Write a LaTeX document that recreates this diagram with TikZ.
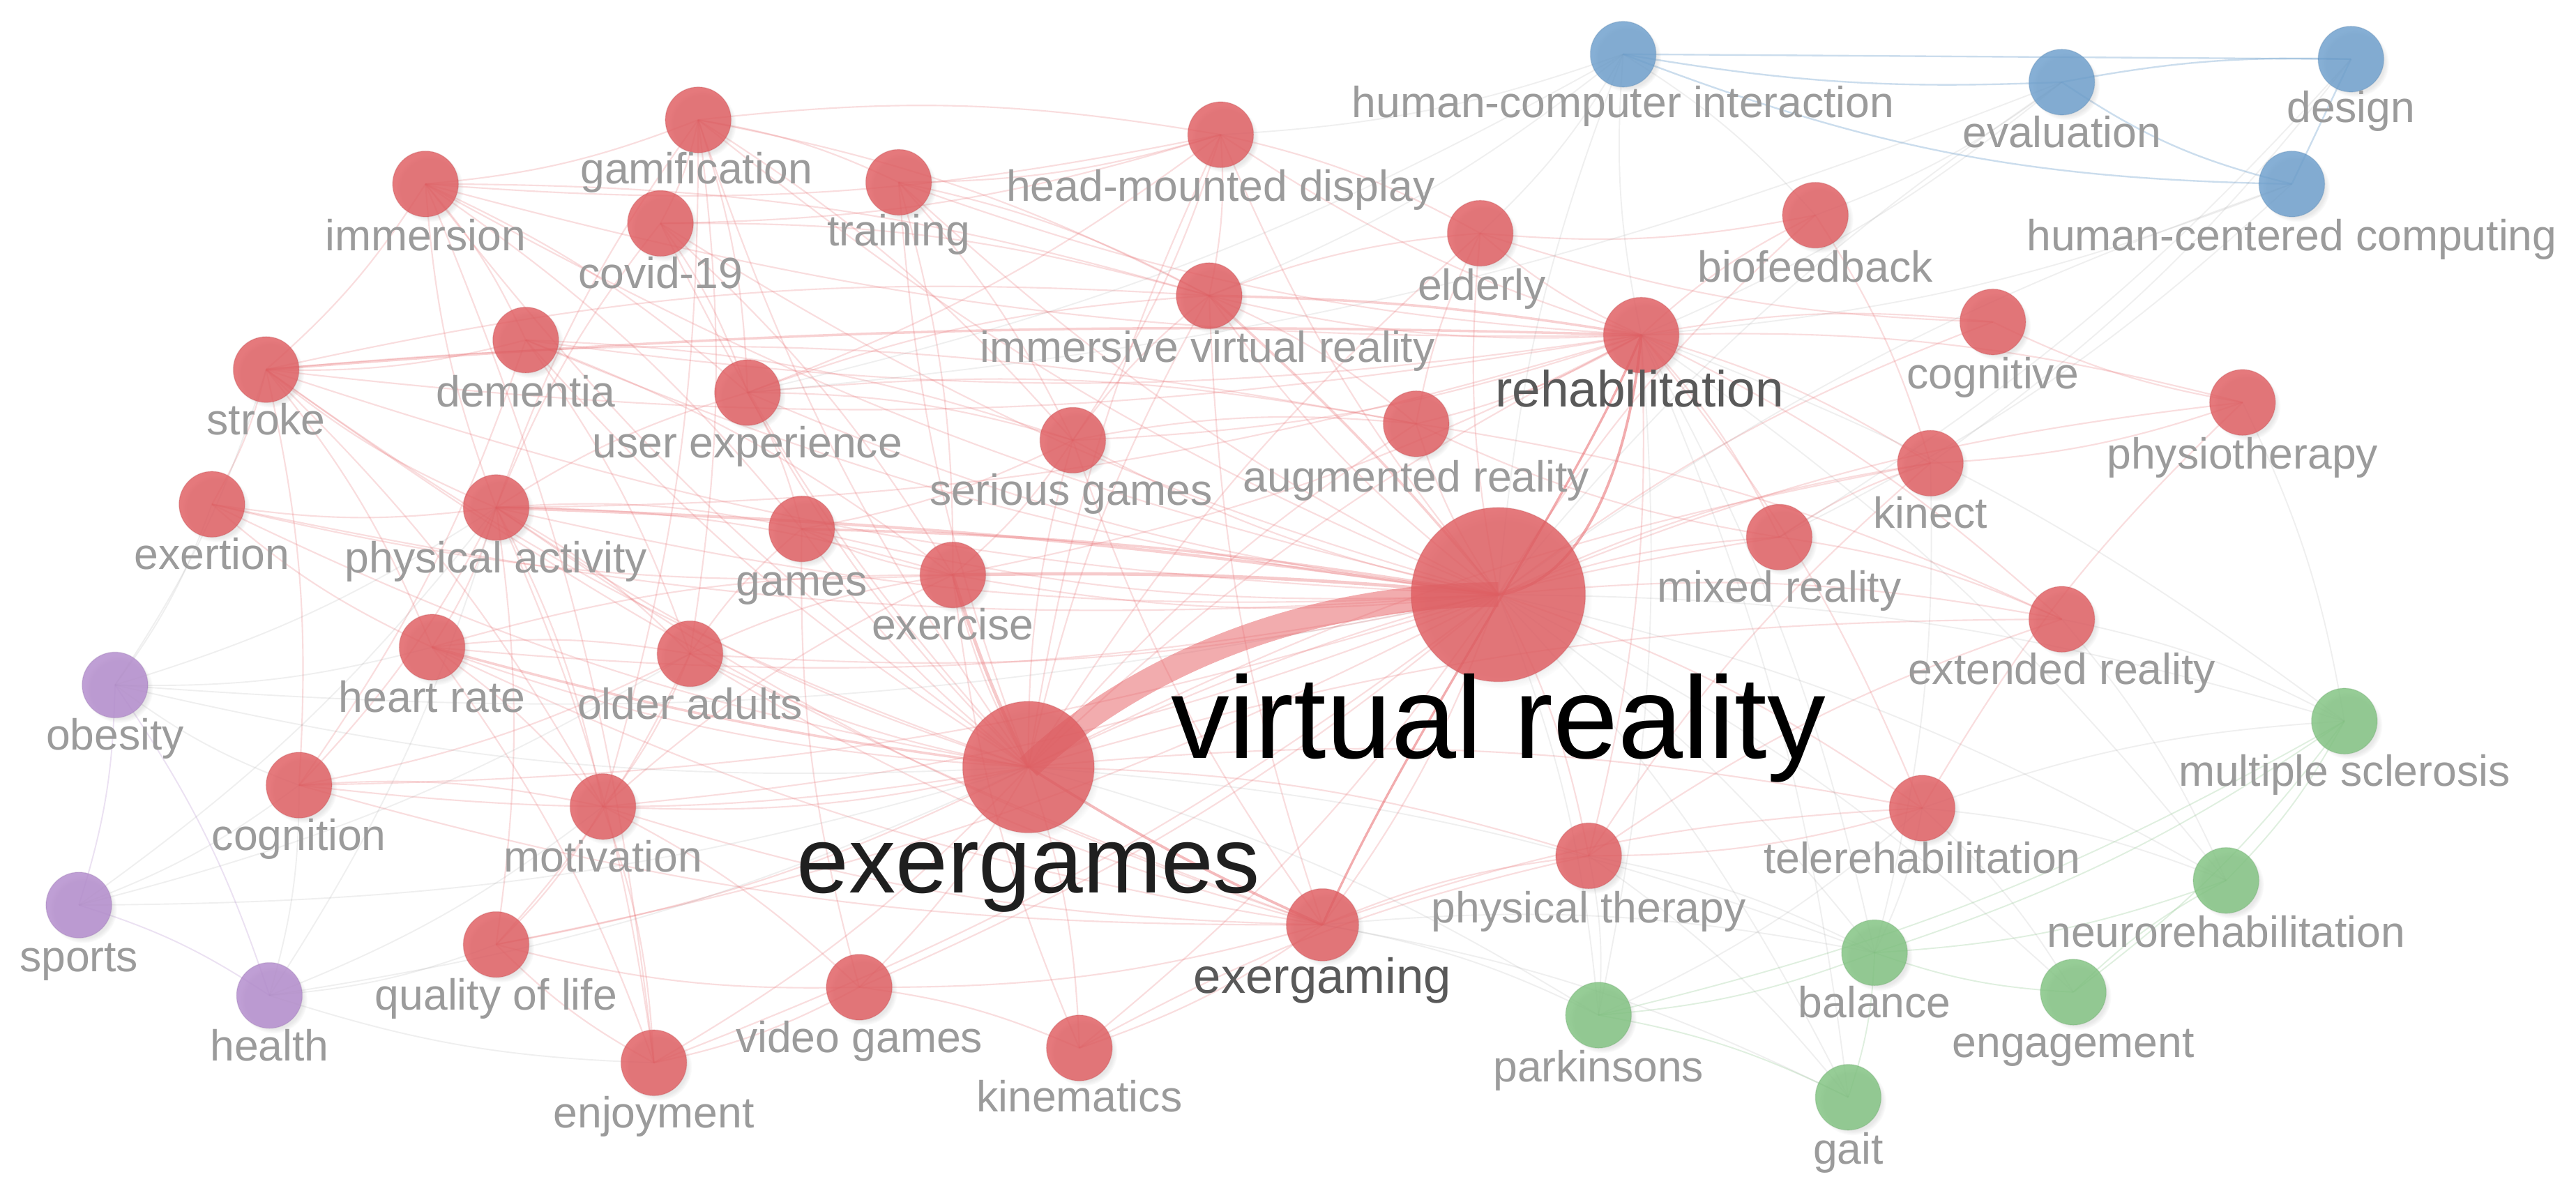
\documentclass[tikz,border=0pt]{standalone}
\usepackage{fontspec}
\setmainfont{Liberation Sans}
\usetikzlibrary{backgrounds,shadows}
\definecolor{nred}{RGB}{224,92,96}
\definecolor{nblue}{RGB}{108,158,204}
\definecolor{ngreen}{RGB}{128,194,128}
\definecolor{npurple}{RGB}{178,138,204}
\definecolor{ered}{RGB}{232,104,108}
\definecolor{lgray}{RGB}{155,155,155}
\begin{document}
\begin{tikzpicture}[x=1pt,y=1pt,
  kw/.style={circle,minimum size=40pt,inner sep=0pt,fill=nred,fill opacity=0.82,
    draw=nred!85!black,draw opacity=0.25,line width=0.6pt,
    circular drop shadow={shadow xshift=2.5pt,shadow yshift=-2.5pt,opacity=0.18,shadow scale=1.03}},
  kwb/.style={kw,fill=nblue,draw=nblue!85!black},
  kwg/.style={kw,fill=ngreen,draw=ngreen!85!black},
  kwp/.style={kw,fill=npurple,draw=npurple!85!black},
  lbl/.style={font=\fontsize{26.5}{28}\selectfont,text=lgray,inner sep=0pt,anchor=mid,yshift=-7pt},
  re/.style={draw=ered,draw opacity=0.22,line width=0.9pt},
  ge/.style={draw=gray,draw opacity=0.12,line width=0.8pt},
  gre/.style={draw=ngreen,draw opacity=0.25,line width=0.8pt},
  ble/.style={draw=nblue,draw opacity=0.35,line width=1pt},
  bendy/.style={bend left=8}]
\useasboundingbox (0,0) rectangle (1568,-722);
% ---------- nodes ----------
\node[kw] (gam) at (425,-73) {};
\node[kw] (hmd) at (743,-82) {};
\node[kw] (imm) at (259,-112) {};
\node[kw] (cov) at (402,-136) {};
\node[kw] (tra) at (547,-111) {};
\node[kw] (eld) at (901,-142) {};
\node[kw] (bio) at (1105,-131) {};
\node[kw] (ivr) at (736,-180) {};
\node[kw,minimum size=46pt] (reh) at (999,-204) {};
\node[kw] (cgt) at (1213,-196) {};
\node[kw] (str) at (162,-225) {};
\node[kw] (dem) at (320,-207) {};
\node[kw] (ux) at (455,-239) {};
\node[kw] (sg) at (653,-268) {};
\node[kw] (ar) at (862,-258) {};
\node[kw] (phy) at (1365,-245) {};
\node[kw] (knt) at (1175,-282) {};
\node[kw] (exn) at (129,-307) {};
\node[kw] (pa) at (302,-309) {};
\node[kw] (gms) at (488,-322) {};
\node[kw] (exc) at (580,-350) {};
\node[kw] (mr) at (1083,-327) {};
\node[kw,minimum size=106pt] (vr) at (912,-362) {};
\node[kw] (xr) at (1255,-377) {};
\node[kw] (hr) at (263,-394) {};
\node[kw] (oa) at (420,-398) {};
\node[kw,minimum size=80pt] (exg) at (626,-467) {};
\node[kw] (cgn) at (182,-478) {};
\node[kw] (mot) at (367,-491) {};
\node[kw] (tel) at (1170,-492) {};
\node[kw] (pt) at (967,-521) {};
\node[kw,minimum size=44pt] (exgm) at (805,-563) {};
\node[kw] (qol) at (302,-575) {};
\node[kw] (vg) at (523,-601) {};
\node[kw] (kin) at (657,-638) {};
\node[kw] (enj) at (398,-647) {};
\node[kwp] (obe) at (70,-417) {};
\node[kwp] (spo) at (48,-551) {};
\node[kwp] (hea) at (164,-606) {};
\node[kwg] (ms) at (1427,-439) {};
\node[kwg] (neu) at (1355,-536) {};
\node[kwg] (bal) at (1141,-580) {};
\node[kwg] (eng) at (1262,-604) {};
\node[kwg] (par) at (973,-618) {};
\node[kwg] (gait) at (1125,-668) {};
\node[kwb] (hci) at (988,-33) {};
\node[kwb] (eva) at (1255,-50) {};
\node[kwb] (des) at (1431,-36) {};
\node[kwb] (hcc) at (1395,-112) {};
% ---------- edges ----------
\begin{pgfonlayer}{background}
\fill[white] (0,0) rectangle (1568,-722);
\foreach \a/\b in {vr/gam,vr/hmd,vr/imm,vr/cov,vr/tra,vr/eld,vr/bio,vr/ivr,vr/cgt,vr/str,vr/dem,vr/ux,vr/sg,vr/ar,vr/phy,vr/knt,vr/exn,vr/pa,vr/gms,vr/exc,vr/mr,vr/xr,vr/hr,vr/oa,vr/cgn,vr/mot,vr/tel,vr/pt,vr/exgm,vr/qol,vr/vg,vr/kin,vr/enj,
 exg/gam,exg/imm,exg/cov,exg/tra,exg/hmd,exg/eld,exg/ivr,exg/reh,exg/str,exg/dem,exg/ux,exg/sg,exg/ar,exg/exn,exg/pa,exg/gms,exg/exc,exg/hr,exg/oa,exg/cgn,exg/mot,exg/qol,exg/vg,exg/kin,exg/enj,exg/pt,exg/tel,exg/mr,exg/knt,exg/xr,
 reh/eld,reh/bio,reh/cgt,reh/phy,reh/knt,reh/str,reh/ivr,reh/ar,reh/sg,reh/exc,reh/tel,reh/pt,reh/mr,reh/xr,reh/imm,reh/pa,reh/dem,reh/tra,reh/hmd,
 exgm/pt,exgm/oa,exgm/mot,exgm/vg,exgm/kin,exgm/tel,exgm/pa,exgm/str,exgm/hr,exgm/cgn,
 pa/exn,pa/hr,pa/oa,pa/gms,pa/mot,pa/imm,pa/ux,pa/str,pa/cgn,pa/qol,pa/enj,pa/exc,pa/gam,pa/cov,
 gam/ux,gam/tra,gam/ivr,gam/sg,gam/mot,gam/imm,gam/hmd,gam/cov,gam/oa,
 hmd/ivr,hmd/imm,hmd/ux,hmd/tra,hmd/sg,hmd/eld,hmd/cov,
 imm/ivr,imm/ux,imm/str,imm/enj,imm/dem,imm/gms,
 dem/oa,dem/cgn,dem/str,dem/sg,dem/exc,cov/ivr,cov/ux,cov/exc,tra/ivr,tra/sg,tra/exc,
 str/exn,str/hr,str/cgn,str/mot,str/ar,str/ivr,
 ux/ivr,ux/sg,ux/gms,ux/ar,sg/exc,sg/gms,sg/ar,sg/ivr,ivr/ar,ivr/eld,
 hr/exn,hr/enj,hr/oa,hr/mot,hr/exc,oa/cgn,oa/mot,oa/qol,oa/exc,oa/gms,
 cgn/mot,mot/enj,mot/qol,mot/vg,mot/exc,vg/enj,vg/kin,vg/qol,vg/gms,enj/qol,
 tel/pt,tel/phy,mr/ar,mr/knt,mr/xr,ar/xr,ar/eld,phy/knt,phy/cgt,cgt/eld,bio/knt,bio/eld,
 exc/exn,exc/gms,exgm/ivr,exgm/sg,pt/knt,pt/xr,kin/exc,kin/pt}
  \draw[re] (\a.center) to[bendy] (\b.center);
\foreach \a/\b in {vr/ms,vr/neu,vr/bal,vr/eng,vr/par,vr/gait,vr/hci,vr/hcc,vr/eva,vr/obe,
 exg/obe,exg/spo,exg/hea,exg/bal,exg/par,reh/ms,reh/neu,reh/bal,reh/par,reh/gait,reh/hci,
 exgm/bal,exgm/par,exgm/gait,pa/obe,pa/hea,pa/spo,cgn/obe,cgn/spo,cgn/hea,exn/obe,hr/obe,
 tel/bal,tel/ms,tel/neu,tel/eng,tel/par,pt/bal,pt/par,pt/gait,xr/ms,xr/neu,phy/ms,knt/bal,
 hci/ivr,hci/hmd,hci/eld,hci/ux,hci/bio,eva/ux,eva/reh,hcc/reh,hcc/mr,des/knt,des/mr,eva/bio,
 mot/hea,qol/hea,enj/hea,oa/spo,str/obe}
  \draw[ge] (\a.center) to[bendy] (\b.center);
\foreach \a/\b in {ms/neu,ms/bal,ms/eng,neu/bal,bal/gait,bal/par,par/gait,eng/neu,eng/bal,ms/par}
  \draw[gre] (\a.center) to[bendy] (\b.center);
\foreach \a/\b in {obe/spo,obe/hea,spo/hea}
  \draw[draw=npurple,draw opacity=0.25,line width=0.8pt] (\a.center) to[bendy] (\b.center);
\draw[ble] (hci.center) -- (des.center);
\draw[ble] (hci.center) to[bend right=6] (eva.center);
\draw[ble] (hci.center) to[bend right=10] (hcc.center);
\draw[ble] (eva.center) to[bend left=6] (des.center);
\draw[ble] (eva.center) to[bend right=10] (hcc.center);
\draw[ble] (des.center) -- (hcc.center);
% stronger edges
\draw[draw=ered,draw opacity=0.45,line width=1.6pt] (exg.center) to[bend right=4] (exgm.center);
\draw[draw=ered,draw opacity=0.55,line width=1.6pt] (vr.center) .. controls (965,-355) and (992,-280) .. (reh.center);
\draw[draw=ered,draw opacity=0.55,line width=1.4pt] (exgm.center) .. controls (860,-440) and (960,-300) .. (reh.center);
\draw[draw=ered,draw opacity=0.35,line width=2pt] (exg.center) to[bend left=4] (exc.center);
\draw[draw=ered,draw opacity=0.35,line width=2pt] (vr.center) to[bend right=3] (exc.center);
\draw[draw=ered,draw opacity=0.3,line width=1.8pt] (vr.center) to[bend right=3] (pa.center);
\draw[draw=ered,draw opacity=0.3,line width=1.5pt] (vr.center) to[bend right=4] (ivr.center);
\draw[draw=ered,draw opacity=0.3,line width=1.5pt] (vr.center) to[bend right=4] (gms.center);
\draw[draw=ered,draw opacity=0.3,line width=1.5pt] (reh.center) to[bend right=4] (ivr.center);
\draw[draw=ered,draw opacity=0.3,line width=1.5pt] (reh.center) to[bend right=3] (str.center);
\draw[draw=ered,draw opacity=0.3,line width=1.5pt] (exg.center) to[bend left=4] (hr.center);
\draw[draw=ered,draw opacity=0.55,line width=15pt]
  (exg.center) .. controls (680,-415) and (780,-362) .. (vr.center);
\end{pgfonlayer}
% ---------- labels ----------
\node[lbl] (l-gam) at (424,-102) {gamification};
\node[lbl] (l-hmd) at (743,-113) {head-mounted display};
\node[lbl] (l-imm) at (259,-143) {immersion};
\node[lbl] (l-cov) at (402,-166) {covid-19};
\node[lbl] (l-tra) at (547,-140) {training};
\node[lbl] (l-eld) at (902,-173) {elderly};
\node[lbl] (l-bio) at (1105,-162) {biofeedback};
\node[lbl] (l-ivr) at (735,-211) {immersive virtual reality};
\node[lbl,font=\fontsize{31}{32}\selectfont,text=black!65] (l-reh) at (998,-238) {rehabilitation};
\node[lbl] (l-cgt) at (1213,-227) {cognitive};
\node[lbl] (l-str) at (162,-255) {stroke};
\node[lbl] (l-dem) at (320,-238) {dementia};
\node[lbl] (l-ux) at (455,-269) {user experience};
\node[lbl] (l-sg) at (652,-298) {serious games};
\node[lbl] (l-ar) at (862,-290) {augmented reality};
\node[lbl] (l-phy) at (1365,-276) {physiotherapy};
\node[lbl] (l-knt) at (1175,-312) {kinect};
\node[lbl] (l-exn) at (129,-337) {exertion};
\node[lbl] (l-pa) at (302,-339) {physical activity};
\node[lbl] (l-gms) at (488,-353) {games};
\node[lbl] (l-exc) at (580,-380) {exercise};
\node[lbl] (l-mr) at (1083,-357) {mixed reality};
\node[lbl,font=\fontsize{71}{72}\selectfont,text=black,yshift=-9pt] (l-vr) at (912,-443) {virtual reality};
\node[lbl] (l-xr) at (1255,-407) {extended reality};
\node[lbl] (l-hr) at (263,-424) {heart rate};
\node[lbl] (l-oa) at (420,-428) {older adults};
\node[lbl,font=\fontsize{57}{58}\selectfont,text=black!88,yshift=-9pt] (l-exg) at (626,-525) {exergames};
\node[lbl] (l-cgn) at (182,-508) {cognition};
\node[lbl] (l-mot) at (367,-521) {motivation};
\node[lbl] (l-tel) at (1170,-522) {telerehabilitation};
\node[lbl] (l-pt) at (967,-552) {physical therapy};
\node[lbl,font=\fontsize{30}{31}\selectfont,text=black!65] (l-exgm) at (805,-595) {exergaming};
\node[lbl] (l-qol) at (302,-605) {quality of life};
\node[lbl] (l-vg) at (523,-631) {video games};
\node[lbl] (l-kin) at (657,-667) {kinematics};
\node[lbl] (l-enj) at (398,-677) {enjoyment};
\node[lbl] (l-obe) at (70,-447) {obesity};
\node[lbl] (l-spo) at (48,-582) {sports};
\node[lbl] (l-hea) at (164,-636) {health};
\node[lbl] (l-ms) at (1427,-469) {multiple sclerosis};
\node[lbl] (l-neu) at (1355,-567) {neurorehabilitation};
\node[lbl] (l-bal) at (1141,-610) {balance};
\node[lbl] (l-eng) at (1262,-634) {engagement};
\node[lbl] (l-par) at (973,-649) {parkinsons};
\node[lbl] (l-gait) at (1125,-699) {gait};
\node[lbl] (l-hci) at (988,-62) {human-computer interaction};
\node[lbl] (l-eva) at (1255,-80) {evaluation};
\node[lbl] (l-des) at (1431,-65) {design};
\node[lbl] (l-hcc) at (1395,-143) {human-centered computing};
\end{tikzpicture}
\end{document}
